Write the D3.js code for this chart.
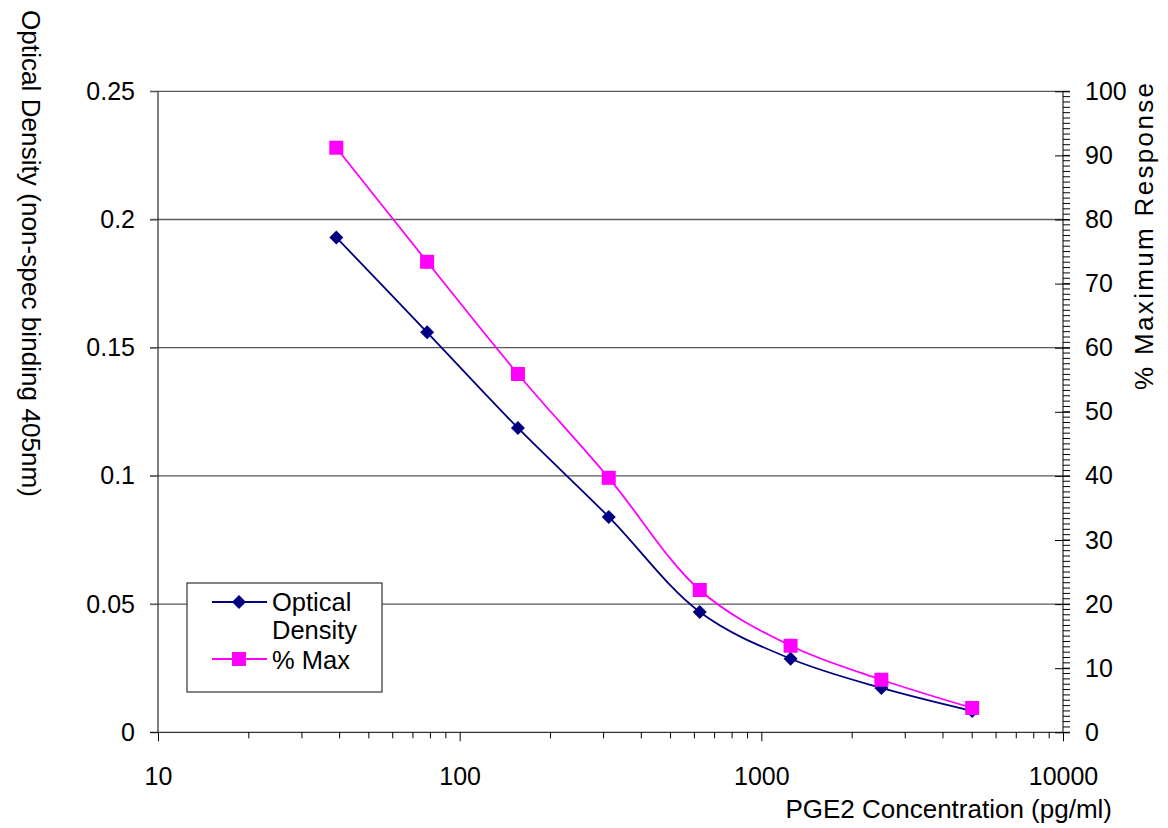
<!DOCTYPE html>
<html>
<head>
<meta charset="utf-8">
<script src="https://cdn.jsdelivr.net/npm/d3@7"></script>
<style>
  body { margin: 0; background: #fff; }
  svg { font-family: "Liberation Sans", Arial, sans-serif; }
</style>
</head>
<body>
<div id="chart"></div>
<script>
// PGE2 standard curve
const concentrations = [39, 78, 156, 312, 625, 1250, 2500, 5000];
const opticalDensity = [0.193, 0.156, 0.1187, 0.084, 0.0469, 0.0287, 0.0173, 0.0083];
const pctMax = [91.2, 73.4, 55.9, 39.7, 22.2, 13.5, 8.2, 3.8];
const xTicks = [10, 100, 1000, 10000];
const yLeftTicks = [0, 0.05, 0.1, 0.15, 0.2, 0.25];
const yRightTicks = [0, 10, 20, 30, 40, 50, 60, 70, 80, 90, 100];

const W = 1168, H = 828;
const m = { l: 158, r: 1063, t: 91.3, b: 732.3 };
const NAVY = '#000080', MAG = '#ff00ff';
const FS = 25, TFS = 26;

const svg = d3.select('#chart').append('svg')
  .attr('width', W).attr('height', H);

const x = d3.scaleLog().domain([10, 10000]).range([m.l, m.r]);
const yL = d3.scaleLinear().domain([0, 0.25]).range([m.b, m.t]);
const yR = d3.scaleLinear().domain([0, 100]).range([m.b, m.t]);

// gridlines
svg.append('g').selectAll('line')
  .data(yLeftTicks.filter(d => d > 0))
  .join('line')
  .attr('x1', m.l - 8).attr('x2', m.r)
  .attr('y1', d => yL(d)).attr('y2', d => yL(d))
  .attr('stroke', '#5a5a5a').attr('stroke-width', 1.3);

// left axis
const gl = svg.append('g').attr('transform', `translate(${m.l},0)`)
  .call(d3.axisLeft(yL).tickValues(yLeftTicks).tickSize(8).tickPadding(15)
    .tickFormat(d => d3.format('')(+d.toFixed(2))));
gl.select('.domain').attr('stroke', '#000').attr('d', `M0,${m.t}V${m.b}`);
gl.selectAll('.tick line').attr('stroke', '#5a5a5a');
gl.selectAll('text').attr('font-size', FS).attr('fill', '#000');

// bottom axis with minor ticks
const minorX = [];
for (let e = 1; e < 4; e++) for (let k = 2; k < 10; k++) minorX.push(k * Math.pow(10, e));
const gx = svg.append('g').attr('transform', `translate(0,${m.b})`);
gx.selectAll('.minor').data(minorX).join('line')
  .attr('x1', d => x(d)).attr('x2', d => x(d))
  .attr('y1', 0).attr('y2', 6).attr('stroke', '#000');
gx.call(d3.axisBottom(x).tickValues(xTicks).tickSize(9).tickPadding(26)
  .tickFormat(d3.format('d')));
gx.select('.domain').attr('stroke', '#000').attr('d', `M${m.l - 8},0H${m.r}`);
gx.selectAll('text').attr('font-size', FS).attr('fill', '#000');

// right axis with minor ticks
const minorR = d3.range(0, 100.001, 10 / 12);
const gr = svg.append('g').attr('transform', `translate(${m.r},0)`);
gr.selectAll('.minor').data(minorR).join('line')
  .attr('x1', 0).attr('x2', 7)
  .attr('y1', d => yR(d)).attr('y2', d => yR(d)).attr('stroke', '#000');
gr.call(d3.axisRight(yR).tickValues(yRightTicks).tickSize(7).tickPadding(15));
gr.selectAll('.tick line').attr('x1', -8);
gr.select('.domain').attr('stroke', '#000').attr('d', `M0,${m.t}V${m.b}`);
gr.selectAll('text').attr('font-size', FS).attr('fill', '#000');

// series
const curve = d3.curveCatmullRom.alpha(0.5);
const lineOD = d3.line().x((d, i) => x(concentrations[i])).y(d => yL(d)).curve(curve);
const linePct = d3.line().x((d, i) => x(concentrations[i])).y(d => yR(d)).curve(curve);

svg.append('path').datum(opticalDensity).attr('d', lineOD)
  .attr('fill', 'none').attr('stroke', NAVY).attr('stroke-width', 1.8);
svg.append('path').datum(pctMax).attr('d', linePct)
  .attr('fill', 'none').attr('stroke', MAG).attr('stroke-width', 1.8);

const diamond = s => `M0,${-s}L${s},0L0,${s}L${-s},0Z`;
svg.append('g').selectAll('path').data(opticalDensity).join('path')
  .attr('transform', (d, i) => `translate(${x(concentrations[i])},${yL(d)})`)
  .attr('d', diamond(7)).attr('fill', NAVY);
svg.append('g').selectAll('rect').data(pctMax).join('rect')
  .attr('x', (d, i) => x(concentrations[i]) - 7).attr('y', d => yR(d) - 7)
  .attr('width', 14).attr('height', 14).attr('fill', MAG);

// legend
const lg = svg.append('g');
lg.append('rect').attr('x', 187).attr('y', 583).attr('width', 195).attr('height', 109)
  .attr('fill', '#fff').attr('stroke', '#333').attr('stroke-width', 1.2);
lg.append('line').attr('x1', 212).attr('x2', 267).attr('y1', 602).attr('y2', 602)
  .attr('stroke', NAVY).attr('stroke-width', 1.8);
lg.append('path').attr('transform', 'translate(239,602)').attr('d', diamond(7)).attr('fill', NAVY);
lg.append('line').attr('x1', 212).attr('x2', 267).attr('y1', 659).attr('y2', 659)
  .attr('stroke', MAG).attr('stroke-width', 1.8);
lg.append('rect').attr('x', 232).attr('y', 652).attr('width', 14).attr('height', 14).attr('fill', MAG);
const legText = [['Optical', 611], ['Density', 639], ['% Max', 669]];
lg.selectAll('text').data(legText).join('text')
  .attr('x', 272).attr('y', d => d[1]).attr('font-size', 25.5).text(d => d[0]);

// axis titles
svg.append('text').attr('x', 1112).attr('y', 818).attr('text-anchor', 'end')
  .attr('font-size', TFS).text('PGE2 Concentration (pg/ml)');
svg.append('text').attr('transform', 'translate(22,253.5) rotate(90)')
  .attr('text-anchor', 'middle').attr('font-size', TFS)
  .attr('textLength', 487).attr('lengthAdjust', 'spacing')
  .text('Optical Density (non-spec binding 405nm)');
svg.append('text').attr('transform', 'translate(1153,236.5) rotate(-90)')
  .attr('text-anchor', 'middle').attr('font-size', TFS)
  .attr('textLength', 307).attr('lengthAdjust', 'spacing')
  .text('% Maximum Response');
</script>
</body>
</html>
